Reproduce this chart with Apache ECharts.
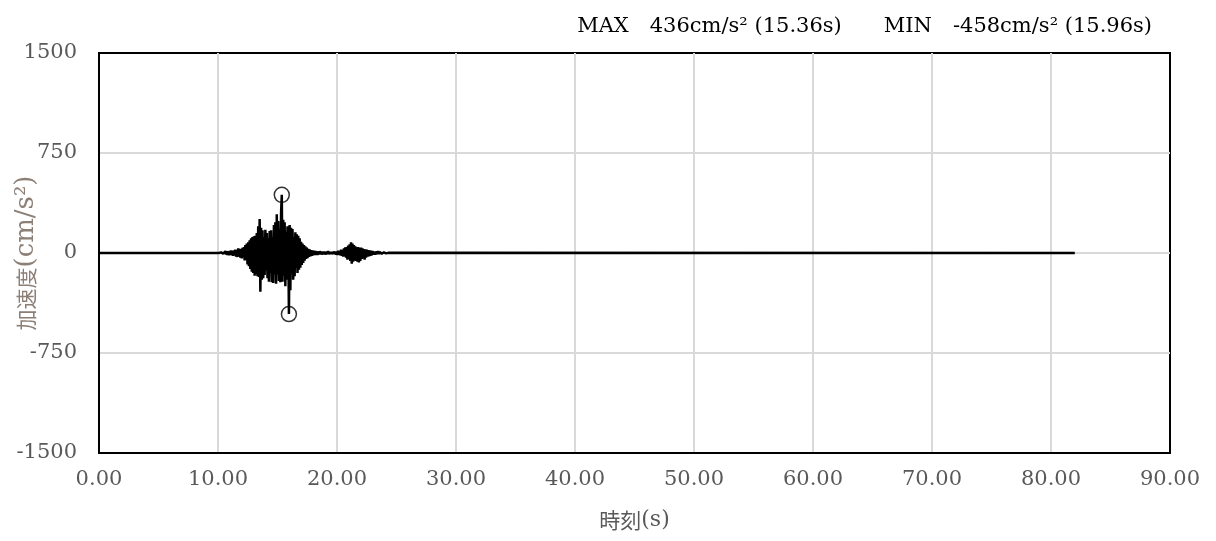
<!DOCTYPE html>
<html>
<head>
<meta charset="utf-8">
<script src="https://cdn.jsdelivr.net/npm/echarts@6/dist/echarts.min.js"></script>
<style>
html,body{margin:0;padding:0;background:#fff;}
#chart{width:1216px;height:541px;}
</style>
</head>
<body>
<div id="chart"></div>
<script>
// ---- data ----
const xTicks = [0, 10, 20, 30, 40, 50, 60, 70, 80, 90];
const yTicks = [-1500, -750, 0, 750, 1500];
const recordStart = 0;      // s
const recordEnd = 82;       // s
const burstStart = 10.08;   // s, first sample of the strong-motion part
const sampleStep = 0.06;    // s
const accel = [
  0, 2, -3, 5, -6, 8, -5, 10, -9, 12,
  -10, 14, -15, 12, -18, 16, -14, 20, -18, 15,
  -22, 20, -16, 25, -28, 22, -30, 35, -25, 32,
  -35, 28, -40, 38, -30, 45, -55, 60, -50, 70,
  -85, 80, -100, 95, -120, 110, -140, 120, -150, 125,
  -170, 130, -160, 150, -175, 200, -180, 255, -290, 190,
  -200, 170, -190, 120, -165, 175, -130, 150, -190, 110,
  -215, 165, -150, 170, -220, 120, -225, 210, -160, 230,
  -230, 290, -160, 240, -210, 180, -220, 300, 436, -215,
  250, -170, 230, -250, 160, -200, 200, 150, -458, 210,
  -280, 190, -150, 180, -200, 120, -175, 155, -110, 140,
  -150, 130, -125, 110, -110, 85, -90, 70, -75, 60,
  -58, 50, -45, 40, -38, 32, -30, 28, -25, 22,
  -22, 20, -18, 18, -16, 15, -15, 14, -16, 12,
  -12, 14, -10, 12, -12, 10, -9, 11, -10, 8,
  -12, 12, -9, 14, -10, 8, -8, 9, -7, 8,
  -6, 8, -8, 10, -12, 12, -15, 18, -14, 16,
  -18, 25, -22, 20, -28, 35, -25, 42, -35, 45,
  -50, 55, -45, 65, -60, 80, -80, 70, -65, 60,
  -55, 50, -60, 42, -65, 45, -70, 38, -60, 40,
  -45, 35, -40, 30, -50, 28, -35, 25, -28, 22,
  -25, 20, -22, 18, -18, 15, -14, 12, -12, 10,
  -10, 12, -9, 14, -8, 8, -7, 8, -6, 6,
  -5, 5, -4, 4, -3, 2, -2, 1, 0, 0
];
const peakTimes = [15.36, 15.96];
const peakValues = [436, -458];
const titleText = 'MAX　436cm/s² (15.36s)　　MIN　-458cm/s² (15.96s)';

// ---- build series ----
const wave = [[recordStart, 0]];
accel.forEach((v, i) => {
  wave.push([+(burstStart + i * sampleStep).toFixed(2), v]);
});
wave.push([recordEnd, 0]);
const peaks = peakTimes.map((t, i) => [t, peakValues[i]]);

const serif = '"DejaVu Serif", "Liberation Serif", serif';
const cjk = '"Noto Sans CJK JP", sans-serif';
const chart = echarts.init(document.getElementById('chart'), null, {renderer: 'canvas'});
chart.setOption({
  animation: false,
  backgroundColor: '#ffffff',
  title: {
    text: titleText,
    right: 59,
    top: 11,
    textStyle: {fontFamily: serif, fontSize: 21, fontWeight: 'normal', color: '#000'}
  },
  grid: {
    left: 99, right: 46, top: 53, bottom: 88,
    containLabel: false,
    outerBoundsMode: 'none',
    show: true, borderColor: '#000', borderWidth: 2, backgroundColor: 'transparent'
  },
  xAxis: {
    type: 'value',
    min: xTicks[0], max: xTicks[xTicks.length - 1], interval: xTicks[1] - xTicks[0],
    name: '{j|時刻}{l|(s)}',
    nameLocation: 'middle',
    nameGap: 56,
    nameMoveOverlap: false,
    nameTextStyle: {
      color: '#595959',
      rich: {
        j: {fontFamily: cjk, fontSize: 21, color: '#595959'},
        l: {fontFamily: serif, fontSize: 22, color: '#595959'}
      }
    },
    axisLine: {show: true, onZero: false, lineStyle: {color: '#000', width: 2}},
    axisTick: {show: false},
    axisLabel: {
      margin: 16, fontFamily: serif, fontSize: 21, color: '#595959',
      formatter: v => v.toFixed(2)
    },
    splitLine: {show: true, showMinLine: false, showMaxLine: false, lineStyle: {color: '#d9d9d9', width: 2}}
  },
  yAxis: {
    type: 'value',
    min: yTicks[0], max: yTicks[yTicks.length - 1], interval: yTicks[1] - yTicks[0],
    name: '{j|加速度}{l|(cm/s²)}',
    nameLocation: 'middle',
    nameGap: 60,
    nameRotate: 90,
    nameMoveOverlap: false,
    nameTextStyle: {
      color: '#8c7f76',
      rich: {
        j: {fontFamily: cjk, fontSize: 21, color: '#8c7f76'},
        l: {fontFamily: serif, fontSize: 26, color: '#8c7f76'}
      }
    },
    axisLine: {show: true, onZero: false, lineStyle: {color: '#000', width: 2}},
    axisTick: {show: false},
    axisLabel: {margin: 22, fontFamily: serif, fontSize: 21, color: '#595959', formatter: v => String(v)},
    splitLine: {show: true, showMinLine: false, showMaxLine: false, lineStyle: {color: '#d9d9d9', width: 2}}
  },
  series: [
    {
      type: 'line',
      data: wave,
      showSymbol: false,
      symbol: 'none',
      lineStyle: {color: '#000', width: 2.5},
      z: 3
    },
    {
      type: 'scatter',
      data: peaks,
      symbol: 'circle',
      symbolSize: 15,
      itemStyle: {color: 'rgba(0,0,0,0)', borderColor: '#000', borderWidth: 1.5},
      z: 4
    }
  ]
});
</script>
</body>
</html>
